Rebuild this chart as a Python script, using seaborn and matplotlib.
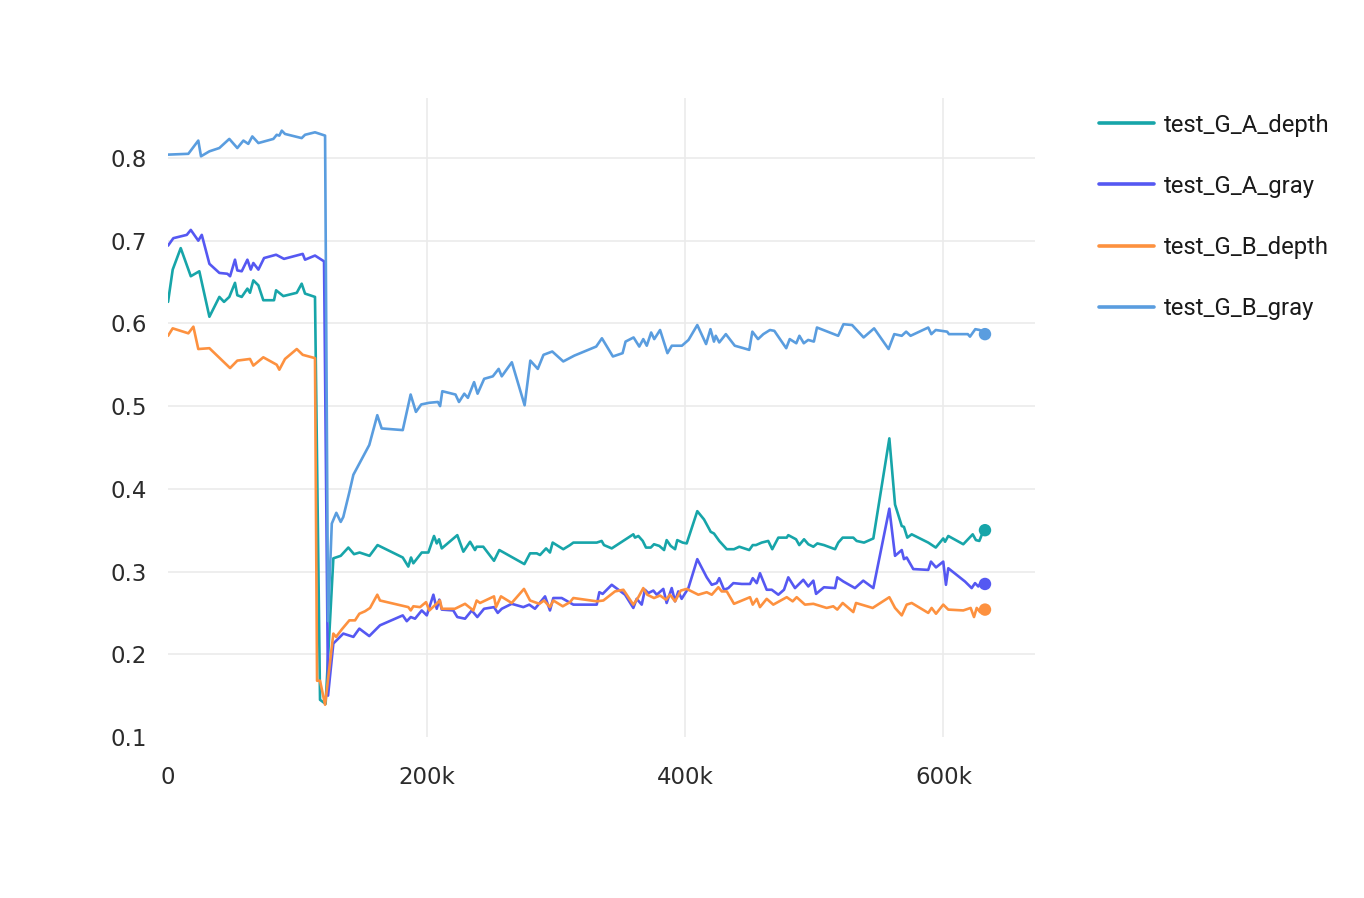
import numpy as np
import pandas as pd
import matplotlib
matplotlib.use("Agg")
import matplotlib.pyplot as plt
import seaborn as sns

# steps are in thousands
a_depth_step = [0, 3.6, 9.8, 17.6, 24.2, 32.0, 39.7, 43.3, 47.4, 51.8, 53.6, 57.0, 61.4, 63.4, 66.0, 69.9,
                73.7, 82.0, 83.6, 89.2, 99.6, 103.4, 106.0, 113.7, 117.6, 121.9, 127.9, 133.6, 139.5, 143.9,
                148.2, 155.9, 162.1, 181.6, 185.9, 188.0, 189.8, 196.3, 201.4, 205.8, 207.9, 209.7, 211.8,
                223.8, 228.5, 233.7, 237.5, 238.8, 243.9, 252.2, 256.3, 275.7, 280.1, 285.3, 287.8, 292.5,
                295.5, 297.6, 305.8, 311.0, 313.6, 331.7, 335.5, 337.3, 343.3, 360.0, 361.3, 363.9, 367.3,
                369.8, 373.5, 376.0, 380.1, 383.8, 385.8, 388.9, 392.3, 394.0, 398.2, 401.3, 409.5, 414.7,
                419.9, 422.4, 426.5, 432.3, 437.9, 442.0, 449.7, 452.4, 454.9, 459.3, 464.4, 467.5, 472.2,
                478.7, 479.9, 485.9, 488.4, 492.1, 495.4, 499.3, 502.4, 507.5, 516.1, 518.6, 522.0, 530.2,
                532.8, 538.5, 545.7, 558.1, 562.5, 567.7, 569.4, 572.0, 575.4, 581.8, 588.2, 594.0, 599.8,
                601.2, 603.7, 615.3, 622.6, 625.1, 627.7, 630.3, 632.1]
a_depth_val = [0.626, 0.665, 0.691, 0.657, 0.663, 0.608, 0.632, 0.626, 0.632, 0.649, 0.634, 0.632, 0.642,
               0.637, 0.652, 0.646, 0.628, 0.628, 0.640, 0.633, 0.637, 0.648, 0.636, 0.632, 0.145, 0.140,
               0.316, 0.319, 0.329, 0.321, 0.323, 0.319, 0.332, 0.317, 0.306, 0.317, 0.310, 0.323, 0.323,
               0.343, 0.334, 0.339, 0.328, 0.344, 0.324, 0.336, 0.326, 0.330, 0.330, 0.313, 0.326, 0.309,
               0.322, 0.322, 0.320, 0.328, 0.323, 0.335, 0.327, 0.332, 0.335, 0.335, 0.337, 0.332, 0.328,
               0.345, 0.341, 0.343, 0.337, 0.329, 0.329, 0.333, 0.331, 0.326, 0.338, 0.331, 0.327, 0.338,
               0.335, 0.334, 0.373, 0.363, 0.348, 0.346, 0.337, 0.327, 0.327, 0.330, 0.326, 0.332, 0.332,
               0.335, 0.337, 0.327, 0.341, 0.341, 0.344, 0.339, 0.332, 0.339, 0.333, 0.330, 0.334, 0.332,
               0.327, 0.335, 0.341, 0.341, 0.337, 0.335, 0.340, 0.461, 0.381, 0.355, 0.354, 0.341, 0.345,
               0.340, 0.335, 0.329, 0.340, 0.336, 0.343, 0.333, 0.345, 0.338, 0.337, 0.347, 0.350]

a_gray_step = [0, 4.1, 14.5, 17.6, 23.4, 26.1, 32.0, 39.7, 45.9, 48.0, 51.8, 53.6, 57.0, 61.4, 64.0, 66.0,
               69.9, 74.3, 83.6, 89.7, 104.2, 106.0, 113.7, 120.7, 123.8, 127.9, 130.5, 135.6, 143.4, 148.0,
               155.7, 164.0, 181.6, 184.7, 187.8, 191.1, 196.3, 200.2, 205.3, 207.9, 209.9, 211.8, 220.7,
               223.8, 229.8, 235.0, 239.3, 244.5, 252.2, 255.1, 258.2, 265.9, 274.9, 279.5, 283.9, 291.7,
               295.5, 298.1, 304.6, 313.6, 331.7, 333.7, 336.3, 343.3, 348.4, 353.6, 360.0, 362.6, 366.5,
               369.0, 371.6, 375.5, 378.1, 383.2, 385.8, 389.7, 392.3, 394.8, 397.4, 402.6, 409.5, 416.8,
               420.7, 424.5, 426.5, 430.2, 433.5, 437.4, 443.9, 450.3, 452.4, 455.5, 458.0, 463.2, 467.1,
               472.2, 476.6, 479.9, 485.1, 491.5, 495.4, 499.3, 501.4, 507.5, 516.1, 517.8, 522.5, 531.5,
               537.9, 545.7, 558.1, 562.5, 567.7, 569.4, 571.5, 576.6, 588.2, 590.3, 594.2, 599.8, 601.9,
               603.7, 616.6, 621.8, 624.4, 626.9, 629.6, 632.1]
a_gray_val = [0.694, 0.703, 0.707, 0.713, 0.700, 0.707, 0.672, 0.661, 0.660, 0.657, 0.677, 0.664, 0.663,
              0.677, 0.665, 0.673, 0.665, 0.679, 0.683, 0.678, 0.684, 0.677, 0.682, 0.675, 0.150, 0.213,
              0.217, 0.225, 0.221, 0.231, 0.222, 0.235, 0.247, 0.240, 0.245, 0.243, 0.253, 0.247, 0.272,
              0.255, 0.266, 0.254, 0.253, 0.245, 0.243, 0.253, 0.245, 0.255, 0.257, 0.250, 0.255, 0.261,
              0.257, 0.260, 0.255, 0.270, 0.253, 0.268, 0.268, 0.260, 0.260, 0.275, 0.273, 0.284, 0.278,
              0.272, 0.256, 0.267, 0.260, 0.278, 0.274, 0.277, 0.272, 0.279, 0.262, 0.280, 0.264, 0.276,
              0.267, 0.280, 0.315, 0.293, 0.284, 0.286, 0.292, 0.278, 0.280, 0.286, 0.285, 0.285, 0.292,
              0.286, 0.298, 0.278, 0.278, 0.272, 0.278, 0.293, 0.280, 0.290, 0.282, 0.289, 0.273, 0.281,
              0.280, 0.293, 0.288, 0.280, 0.289, 0.280, 0.376, 0.319, 0.326, 0.315, 0.317, 0.303, 0.302,
              0.312, 0.305, 0.312, 0.284, 0.304, 0.288, 0.280, 0.286, 0.282, 0.288, 0.285]

b_depth_step = [0, 3.6, 15.7, 19.6, 23.4, 32.0, 48.0, 53.6, 63.4, 66.0, 73.7, 84.1, 86.1, 90.5, 99.6, 104.2,
                113.7, 115.3, 117.6, 121.5, 127.9, 130.0, 134.4, 140.3, 144.7, 148.0, 152.4, 156.3, 161.9,
                164.0, 185.9, 187.8, 189.8, 195.0, 199.6, 202.2, 210.4, 211.8, 222.0, 225.9, 229.8, 236.2,
                238.8, 241.4, 252.2, 253.8, 257.6, 265.9, 275.4, 280.1, 287.3, 290.9, 295.5, 298.1, 305.4,
                311.0, 313.6, 331.7, 336.8, 345.8, 352.3, 360.0, 363.9, 367.7, 370.8, 376.0, 380.7, 385.3,
                388.4, 392.3, 396.7, 401.3, 410.3, 416.8, 420.7, 425.8, 428.4, 432.3, 437.9, 450.3, 452.4,
                455.5, 458.0, 463.2, 468.3, 478.7, 483.3, 486.4, 492.8, 499.3, 509.6, 514.7, 517.8, 522.0,
                530.2, 532.3, 545.2, 558.1, 562.5, 567.7, 571.5, 575.4, 588.2, 590.8, 594.2, 599.8, 603.7,
                615.3, 621.0, 623.6, 625.7, 628.3, 632.1]
b_depth_val = [0.585, 0.594, 0.588, 0.596, 0.569, 0.570, 0.546, 0.555, 0.557, 0.549, 0.559, 0.550, 0.544,
               0.557, 0.569, 0.562, 0.558, 0.168, 0.168, 0.139, 0.225, 0.221, 0.230, 0.241, 0.241, 0.249,
               0.252, 0.256, 0.272, 0.265, 0.257, 0.253, 0.258, 0.257, 0.263, 0.253, 0.265, 0.255, 0.255,
               0.258, 0.261, 0.253, 0.265, 0.262, 0.270, 0.257, 0.270, 0.262, 0.279, 0.265, 0.261, 0.265,
               0.257, 0.265, 0.258, 0.263, 0.268, 0.264, 0.265, 0.276, 0.278, 0.260, 0.269, 0.280, 0.272,
               0.268, 0.271, 0.266, 0.272, 0.264, 0.277, 0.279, 0.272, 0.275, 0.272, 0.281, 0.276, 0.276,
               0.261, 0.269, 0.260, 0.267, 0.257, 0.267, 0.260, 0.269, 0.264, 0.269, 0.260, 0.261, 0.256,
               0.258, 0.254, 0.262, 0.251, 0.262, 0.256, 0.269, 0.256, 0.247, 0.260, 0.262, 0.250, 0.256,
               0.249, 0.260, 0.254, 0.253, 0.256, 0.245, 0.256, 0.251, 0.254]

b_gray_step = [0, 15.7, 23.4, 25.5, 32.0, 39.7, 47.4, 53.6, 58.3, 62.1, 65.2, 69.9, 81.5, 84.1, 86.1, 88.0,
               90.5, 103.4, 106.0, 113.7, 121.5, 123.8, 126.7, 130.2, 133.6, 135.6, 140.3, 143.4, 155.7,
               161.9, 165.3, 181.6, 187.7, 191.8, 195.9, 202.0, 208.8, 210.5, 212.2, 222.4, 225.1, 229.2,
               232.0, 236.8, 239.5, 244.6, 251.3, 255.8, 258.2, 266.0, 275.9, 280.3, 286.1, 290.5, 297.3,
               305.8, 314.3, 331.3, 335.7, 344.2, 351.7, 354.0, 360.2, 364.6, 367.7, 370.4, 373.8, 376.2,
               380.7, 386.4, 389.8, 397.6, 402.7, 409.5, 416.3, 419.7, 422.4, 423.8, 426.5, 431.6, 438.5,
               445.3, 449.7, 452.1, 456.5, 460.6, 465.7, 469.1, 478.3, 481.0, 486.1, 488.5, 491.9, 495.3,
               499.7, 502.1, 518.5, 522.6, 529.3, 538.2, 546.3, 557.5, 561.9, 567.7, 571.1, 574.5, 588.2,
               590.6, 594.0, 602.8, 604.2, 618.8, 620.5, 624.6, 628.0, 632.1]
b_gray_val = [0.804, 0.805, 0.821, 0.802, 0.808, 0.812, 0.823, 0.812, 0.821, 0.817, 0.826, 0.818, 0.823,
              0.828, 0.827, 0.833, 0.829, 0.824, 0.828, 0.831, 0.827, 0.240, 0.358, 0.371, 0.360, 0.366,
              0.396, 0.417, 0.453, 0.489, 0.473, 0.471, 0.514, 0.493, 0.502, 0.504, 0.505, 0.500, 0.518,
              0.514, 0.505, 0.515, 0.510, 0.529, 0.515, 0.533, 0.536, 0.545, 0.536, 0.553, 0.501, 0.555,
              0.545, 0.562, 0.566, 0.554, 0.561, 0.572, 0.582, 0.560, 0.564, 0.578, 0.583, 0.572, 0.581,
              0.573, 0.589, 0.581, 0.592, 0.564, 0.573, 0.573, 0.580, 0.598, 0.575, 0.593, 0.578, 0.585,
              0.577, 0.587, 0.573, 0.570, 0.568, 0.590, 0.581, 0.587, 0.592, 0.591, 0.570, 0.581, 0.576,
              0.585, 0.576, 0.580, 0.578, 0.595, 0.585, 0.599, 0.598, 0.583, 0.594, 0.569, 0.587, 0.585,
              0.590, 0.585, 0.595, 0.587, 0.592, 0.590, 0.587, 0.587, 0.584, 0.593, 0.592, 0.587]

series_names = ["test_G_A_depth", "test_G_A_gray", "test_G_B_depth", "test_G_B_gray"]
colors = ["#17a5a9", "#5558f2", "#fd913f", "#5a9ddf"]

x_ticks = [0, 200000, 400000, 600000]
x_labels = ["0", "200k", "400k", "600k"]
y_ticks = [0.1, 0.2, 0.3, 0.4, 0.5, 0.6, 0.7, 0.8]
y_labels = ["0.1", "0.2", "0.3", "0.4", "0.5", "0.6", "0.7", "0.8"]

frames = []
for name, st, vals in zip(series_names,
                          [a_depth_step, a_gray_step, b_depth_step, b_gray_step],
                          [a_depth_val, a_gray_val, b_depth_val, b_gray_val]):
    frames.append(pd.DataFrame({"step": np.array(st) * 1000, "value": vals, "series": name}))
data = pd.concat(frames, ignore_index=True)
last = data.groupby("series", sort=False).tail(1)

sns.set_theme(style="white")
plt.rcParams["font.family"] = ["DejaVu Sans"]

fig = plt.figure(figsize=(13.64, 8.98), dpi=100)
ax = fig.add_axes([0.1232, 0.1793, 0.6356, 0.7116])

palette = dict(zip(series_names, colors))
sns.lineplot(data=data, x="step", y="value", hue="series", palette=palette,
             estimator=None, sort=False, linewidth=1.9, ax=ax, legend=False)
sns.scatterplot(data=last, x="step", y="value", hue="series", palette=palette,
                s=80, linewidth=0, ax=ax, legend=False, zorder=5)

ax.set_xlim(0, 670800)
ax.set_ylim(0.1, 0.8725)
ax.set_xticks(x_ticks, x_labels)
ax.set_yticks(y_ticks, y_labels)
ax.set_xlabel("")
ax.set_ylabel("")
ax.grid(True, color="#ebebeb", linewidth=1.2)
ax.set_axisbelow(True)
ax.xaxis.get_gridlines()[0].set_visible(False)
ax.yaxis.get_gridlines()[0].set_visible(False)
for s in ax.spines.values():
    s.set_visible(False)
ax.tick_params(axis="both", length=0, labelsize=16.5, labelcolor="#2b2b2b")
ax.tick_params(axis="y", pad=15)
ax.tick_params(axis="x", pad=21)

handles = [plt.Line2D([], [], color=c, linewidth=2.6) for c in colors]
fig.legend(handles, series_names, loc="upper left", bbox_to_anchor=(0.790, 0.8975),
           frameon=False, handlelength=2.3, handletextpad=0.42, labelspacing=1.6,
           prop={"family": "Roboto", "size": 17.2}, labelcolor="#1a1a1a")

fig.savefig("out.png", dpi=100, facecolor="white")
